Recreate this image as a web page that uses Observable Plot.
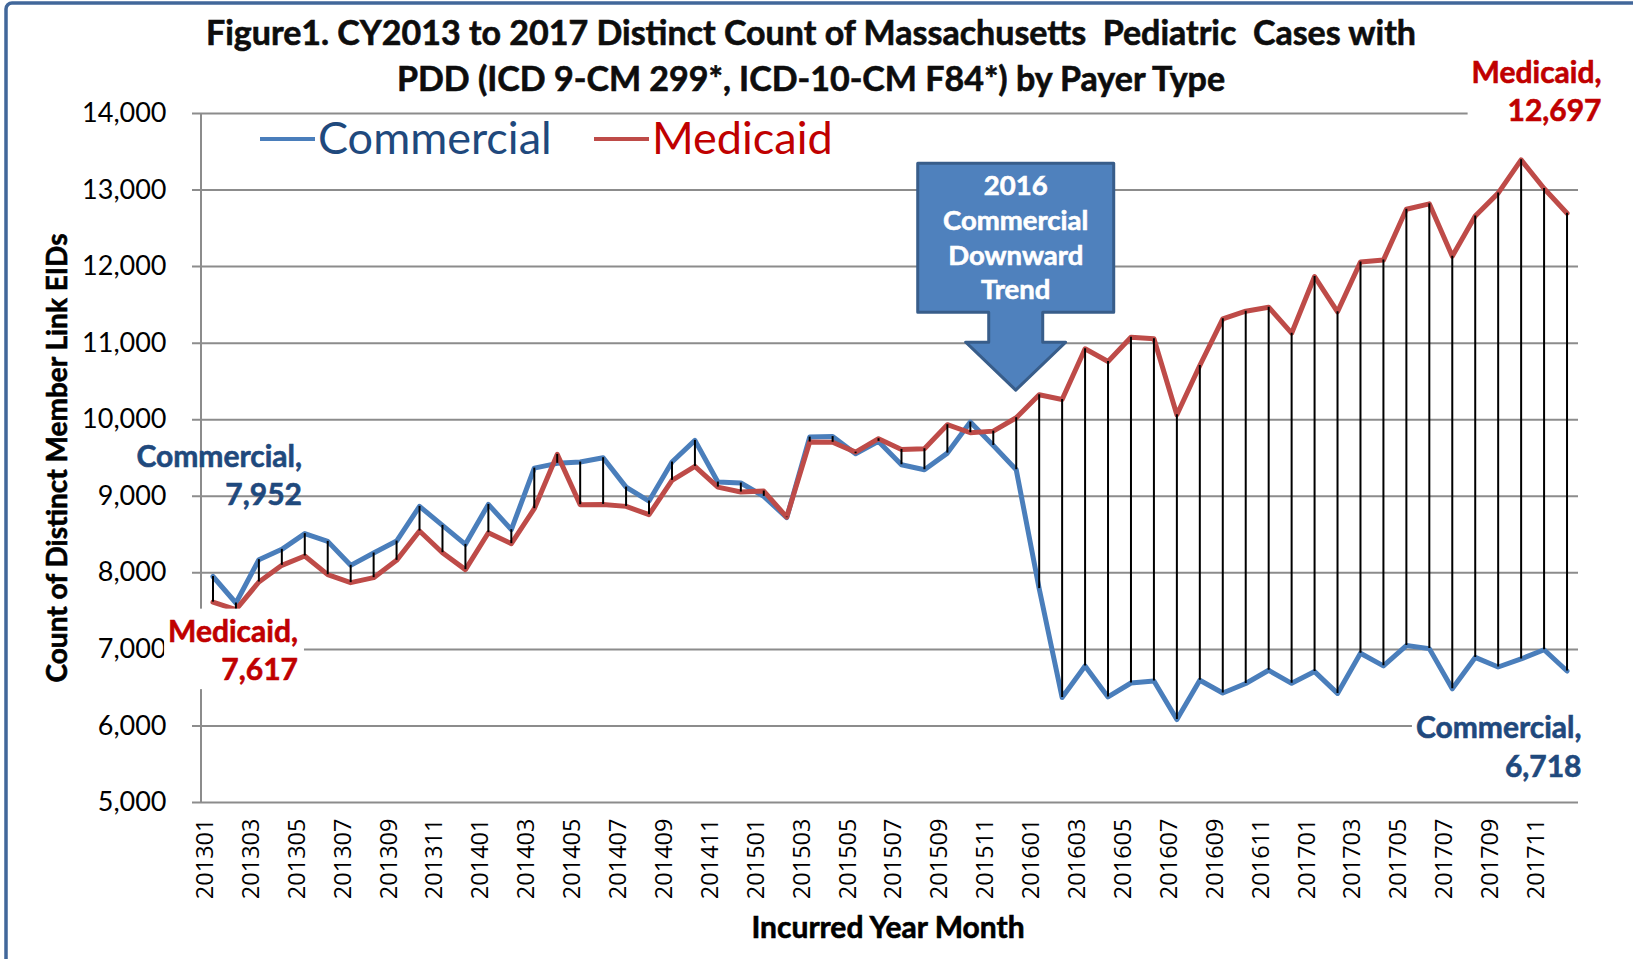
<!DOCTYPE html>
<html><head><meta charset="utf-8">
<script src="https://cdn.jsdelivr.net/npm/d3@7"></script>
<script src="https://cdn.jsdelivr.net/npm/@observablehq/plot@0.6"></script>
<style>
body{margin:0;background:#fff;}
#chart{position:relative;width:1633px;height:959px;overflow:hidden;background:#fff;}
svg text{white-space:pre;}
</style></head><body><div id="chart"></div>
<script>
// ---------------- data ----------------
const months = [
  "201301","201302","201303","201304","201305","201306","201307","201308","201309","201310","201311","201312",
  "201401","201402","201403","201404","201405","201406","201407","201408","201409","201410","201411","201412",
  "201501","201502","201503","201504","201505","201506","201507","201508","201509","201510","201511","201512",
  "201601","201602","201603","201604","201605","201606","201607","201608","201609","201610","201611","201612",
  "201701","201702","201703","201704","201705","201706","201707","201708","201709","201710","201711","201712"
];
const commercial = [
  7952,7606,8172,8307,8512,8411,8098,8259,8415,8868,8620,8372,
  8894,8564,9368,9430,9447,9504,9120,8938,9447,9730,9186,9173,
  8999,8721,9773,9780,9556,9717,9412,9347,9564,9969,9664,9347,
  7794,6371,6783,6379,6561,6588,6084,6597,6431,6554,6727,6557,
  6710,6425,6950,6785,7050,7010,6485,6895,6770,6875,6995,6718
];
const medicaid = [
  7617,7520,7880,8098,8220,7976,7872,7937,8163,8546,8263,8042,
  8524,8381,8838,9547,8890,8894,8868,8760,9208,9390,9120,9055,
  9068,8728,9708,9705,9577,9752,9612,9621,9935,9830,9851,10026,
  10326,10265,10927,10761,11078,11057,10065,10709,11318,11418,11470,11130,
  11870,11410,12060,12085,12750,12820,12135,12660,12960,13395,13020,12697
];
const seriesNames = ["Commercial", "Medicaid"];
const yTicks = [5000,6000,7000,8000,9000,10000,11000,12000,13000,14000];
const xTickLabels = months.filter((m, i) => i % 2 === 0);
const titleLines = [
  "Figure1. CY2013 to 2017 Distinct Count of Massachusetts  Pediatric  Cases with",
  "PDD (ICD 9-CM 299*, ICD-10-CM F84*) by Payer Type"
];
const yLabel = "Count of Distinct Member Link EIDs";
const xLabel = "Incurred Year Month";
const calloutLines = ["2016", "Commercial", "Downward", "Trend"];
const calloutMonth = "201512";
const calloutValue = 10380;

// ---------------- styles ----------------
const blue = "#4A7EBB", red = "#BE4B48", gridColor = "#8C8C8C";
const blueText = "#1F497D", redText = "#C00000";
const font = "Lato, 'Open Sans', sans-serif";
const fmt = d3.format(",");

const rows = months.map((m, i) => ({month: m, commercial: commercial[i], medicaid: medicaid[i]}));

const chart = Plot.plot({
  width: 1633, height: 959,
  marginLeft: 201, marginRight: 55, marginTop: 113, marginBottom: 157,
  style: {fontFamily: font, background: "white", overflow: "visible"},
  x: {type: "point", domain: months, padding: 0.5, align: 0.5, axis: null},
  y: {domain: [5000, 14000], axis: null},
  marks: [
    Plot.ruleY(yTicks, {stroke: gridColor, strokeWidth: 2, insetLeft: -9}),
    Plot.line(rows, {x: "month", y: "commercial", stroke: blue, strokeWidth: 5, strokeLinejoin: "round"}),
    Plot.line(rows, {x: "month", y: "medicaid", stroke: red, strokeWidth: 5, strokeLinejoin: "round"}),
    Plot.ruleX(rows, {x: "month", y1: "commercial", y2: "medicaid", stroke: "black", strokeWidth: 2}),
    Plot.text(yTicks, {y: d => d, frameAnchor: "left", dx: -35, textAnchor: "end", text: d => fmt(d), fontSize: 27, fill: "black"}),
    Plot.text(xTickLabels, {x: d => d, frameAnchor: "bottom", dy: 16, rotate: -90, textAnchor: "end", fontSize: 23.5, fontFamily: "'Open Sans', sans-serif", fill: "black"})
  ]
});
document.getElementById("chart").appendChild(chart);

// ---------------- overlays using the plot's scales ----------------
const svg = d3.select(chart);
const xs = v => chart.scale("x").apply(v);
const ys = v => chart.scale("y").apply(v);
const heavy = (sel, color) => sel.attr("stroke", color).attr("stroke-width", 0.6).attr("paint-order", "stroke");

// y axis line
svg.append("line").attr("x1", 201).attr("x2", 201).attr("y1", ys(14000)).attr("y2", ys(5000))
  .attr("stroke", gridColor).attr("stroke-width", 2);

// outer frame
svg.append("rect").attr("x", 6).attr("y", 3).attr("width", 1700).attr("height", 1100).attr("rx", 6)
  .attr("fill", "none").attr("stroke", "#41679A").attr("stroke-width", 3.5);

// title
svg.append("g").selectAll("text").data(titleLines).join("text")
  .attr("x", 811).attr("y", (d, i) => 45 + i * 45.5)
  .attr("text-anchor", "middle").attr("font-weight", "bold").attr("font-size", 34)
  .attr("font-family", font).attr("fill", "#0D0D0D").text(d => d)
  .call(heavy, "#0D0D0D");

// axis titles
svg.append("text").attr("transform", "translate(67,458) rotate(-90)")
  .attr("text-anchor", "middle").attr("font-weight", "bold").attr("font-size", 28)
  .attr("font-family", font).attr("fill", "black").text(yLabel).call(heavy, "black");
svg.append("text").attr("x", 888).attr("y", 938)
  .attr("text-anchor", "middle").attr("font-weight", "bold").attr("font-size", 30)
  .attr("font-family", font).attr("fill", "black").text(xLabel).call(heavy, "black");

// legend
const legend = [
  {name: seriesNames[0], color: blue, textColor: blueText, x: 260},
  {name: seriesNames[1], color: red, textColor: redText, x: 594}
];
const lg = svg.append("g");
legend.forEach(d => {
  lg.append("line").attr("x1", d.x).attr("x2", d.x + 55).attr("y1", 139).attr("y2", 139)
    .attr("stroke", d.color).attr("stroke-width", 4);
  lg.append("text").attr("x", d.x + 58).attr("y", 154).attr("font-size", 45)
    .attr("text-anchor", "start")
    .attr("font-family", font).attr("fill", d.textColor).text(d.name);
});

// end-point annotations
function annotate(month, value, name, color, dx, dy1, box) {
  const x = xs(month) + dx, y0 = ys(value);
  const g = svg.append("g");
  const rect = g.append("rect").attr("fill", "white");
  const t = g.append("text").attr("text-anchor", "end").attr("font-weight", "bold")
    .attr("font-size", 30).attr("font-family", font).attr("fill", color).call(heavy, color);
  t.append("tspan").attr("x", x).attr("y", y0 + dy1).text(name + ",");
  t.append("tspan").attr("x", x).attr("y", y0 + dy1 + 38.5).text(fmt(value));
  if (box) {
    const b = t.node().getBBox();
    rect.attr("x", b.x - 4).attr("y", b.y - 3).attr("width", b.width + 10).attr("height", b.height + 6);
  } else rect.remove();
}
const last = months.length - 1;
annotate(months[0], commercial[0], seriesNames[0], blueText, 89.5, -109.5, false);
annotate(months[0], medicaid[0], seriesNames[1], redText, 85.5, 40, true);
annotate(months[last], medicaid[last], seriesNames[1], redText, 35, -130, true);
annotate(months[last], commercial[last], seriesNames[0], blueText, 15, 67.6, true);

// callout arrow
const tx = xs(calloutMonth), ty = ys(calloutValue);
const shape = [[-98,-227],[98,-227],[98,-78],[27,-78],[27,-48],[50,-48],[0,0],[-50,-48],[-27,-48],[-27,-78],[-98,-78]];
svg.append("path")
  .attr("d", "M" + shape.map(p => (tx + p[0]) + "," + (ty + p[1])).join("L") + "Z")
  .attr("fill", "#4F81BD").attr("stroke", "#385D8A").attr("stroke-width", 3).attr("stroke-linejoin", "round");
svg.append("g").selectAll("text").data(calloutLines).join("text")
  .attr("x", tx).attr("y", (d, i) => ty - 195 + i * 34.7)
  .attr("text-anchor", "middle").attr("font-weight", "bold").attr("font-size", 27.5)
  .attr("font-family", font).attr("fill", "white").text(d => d).call(heavy, "white");
</script></body></html>
